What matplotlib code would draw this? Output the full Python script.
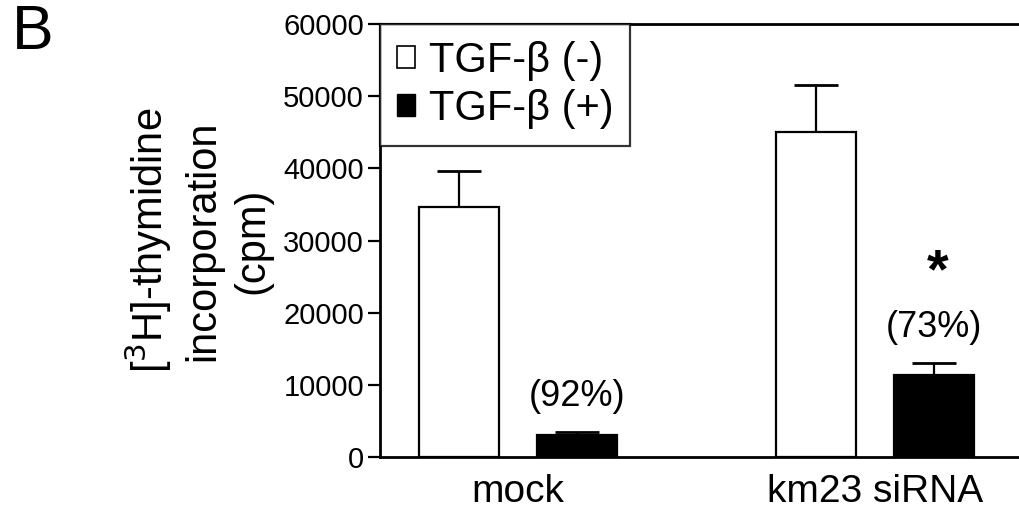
import numpy as np
import matplotlib
matplotlib.use("Agg")
import matplotlib.pyplot as plt
from matplotlib.patches import Patch

# values
groups = ["mock", "km23 siRNA"]
tgf_minus = [34600, 45000]
tgf_minus_err = [5100, 6600]
tgf_plus = [3000, 11300]
tgf_plus_err = [450, 1700]
pct_labels = ["(92%)", "(73%)"]
pct_y = [8450, 18000]
star_y = 23500

plt.rcParams["font.family"] = ["Liberation Sans", "DejaVu Sans"]

fig = plt.figure(figsize=(10.2, 5.12), dpi=100)
# axes runs a bit past the right edge so the top/bottom lines reach the border
ax = fig.add_axes([0.3725, 0.1074, 0.6475, 0.8456])

x = np.arange(len(groups))
w = 0.224
off = 0.165

ax.bar(x - off, tgf_minus, w, color="white", edgecolor="black", linewidth=1.6, zorder=2)
ax.bar(x + off, tgf_plus, w, color="black", edgecolor="black", linewidth=1.6, zorder=2)
ax.errorbar(x - off, tgf_minus, yerr=[np.zeros(2), tgf_minus_err], fmt="none",
            ecolor="black", elinewidth=1.6, capsize=15.5, capthick=2, zorder=1)
ax.errorbar(x + off, tgf_plus, yerr=[np.zeros(2), tgf_plus_err], fmt="none",
            ecolor="black", elinewidth=1.6, capsize=15.5, capthick=2, zorder=1)

for xi, yi, lab in zip(x + off, pct_y, pct_labels):
    ax.text(xi, yi, lab, ha="center", va="center", fontsize=26)
ax.text(x[1] + off + 0.01, star_y, "*", ha="center", va="baseline",
        fontsize=40, fontweight="bold")

ax.set_ylim(0, 60000)
ax.set_xlim(-0.387, -0.387 + 0.6475 * 1020 / 357)
ax.set_yticks(np.arange(0, 60001, 10000))
ax.set_xticks(x)
ax.set_xticklabels(groups, fontsize=28)
ax.tick_params(axis="x", length=0, pad=12)
ax.tick_params(axis="y", labelsize=21, length=8.5, width=1.6, direction="out", pad=3)
for s in ["left", "top", "bottom"]:
    ax.spines[s].set_linewidth(2)
ax.spines["right"].set_visible(False)

ax.set_ylabel("[$^3$H]-thymidine\nincorporation\n(cpm)", fontsize=30,
              linespacing=1.3, labelpad=8)

handles = [Patch(facecolor="white", edgecolor="black", linewidth=1.2),
           Patch(facecolor="black", edgecolor="black")]
leg = ax.legend(handles, ["TGF-β (-)", "TGF-β (+)"], loc="upper left",
                prop={"size": 30}, frameon=True, fancybox=False,
                edgecolor="black", handlelength=0.43, handleheight=0.43, handletextpad=0.35,
                borderpad=0.4, borderaxespad=0.0, labelspacing=0.2)
leg.get_frame().set_linewidth(1.6)

fig.text(0.012, 0.995, "B", fontsize=45, va="top", ha="left")

fig.savefig("out.png", dpi=100)
